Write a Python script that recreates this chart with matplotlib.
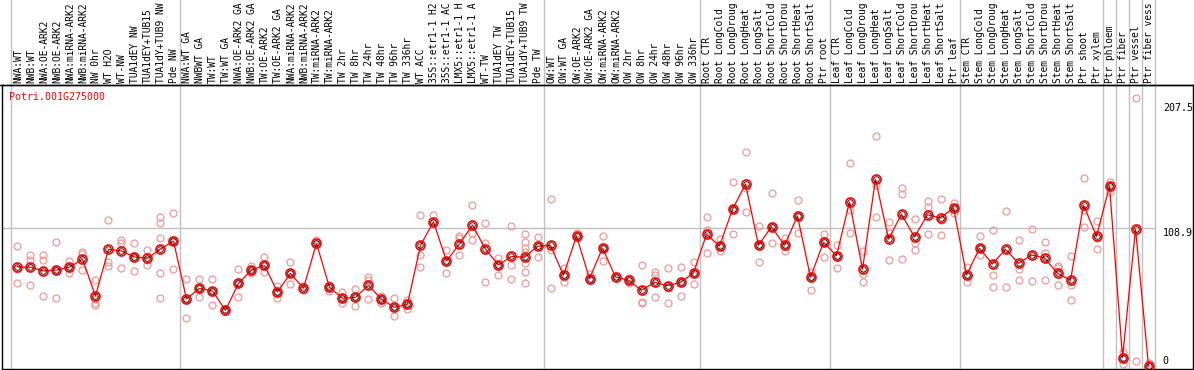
import matplotlib
matplotlib.use("Agg")
import matplotlib.pyplot as plt

gene = "Potri.001G275000"

# labels as shown in the chart (cut to 14 characters)
samples = [
    "NWA:WT", "NWB:WT", "NWA:OE-ARK2", "NWB:OE-ARK2", "NWA:miRNA-ARK2",
    "NWB:miRNA-ARK2", "NW 0hr", "WT H2O", "WT-NW", "TUA1dEY NW",
    "TUA1dEY+TUB15", "TUA1dY+TUB9 NW", "Pde NW",
    "NWA:WT GA", "NWBWT GA", "TW:WT", "TW:WT GA", "NWA:OE-ARK2 GA",
    "NWB:OE-ARK2 GA", "TW:OE-ARK2", "TW:OE-ARK2 GA", "NWA:miRNA-ARK2",
    "NWB:miRNA-ARK2", "TW:miRNA-ARK2", "TW:miRNA-ARK2", "TW 2hr",
    "TW 8hr", "TW 24hr", "TW 48hr", "TW 96hr", "TW 336hr", "WT ACC",
    "35S::etr1-1 H2", "35S::etr1-1 AC", "LMX5::etr1-1 H",
    "LMX5::etr1-1 A", "WT-TW", "TUA1dEY TW", "TUA1dEY+TUB15",
    "TUA1dY+TUB9 TW", "Pde TW",
    "OW:WT", "OW:WT GA", "OW:OE-ARK2", "OW:OE-ARK2 GA", "OW:miRNA-ARK2",
    "OW:miRNA-ARK2", "OW 2hr", "OW 8hr", "OW 24hr", "OW 48hr", "OW 96hr",
    "OW 336hr",
    "Root CTR", "Root LongCold", "Root LongDroug", "Root LongHeat",
    "Root LongSalt", "Root ShortCold", "Root ShortDrou", "Root ShortHeat",
    "Root ShortSalt", "Ptr root",
    "Leaf CTR", "Leaf LongCold", "Leaf LongDroug", "Leaf LongHeat",
    "Leaf LongSalt", "Leaf ShortCold", "Leaf ShortDrou", "Leaf ShortHeat",
    "Leaf ShortSalt", "Ptr leaf",
    "Stem CTR", "Stem LongCold", "Stem LongDroug", "Stem LongHeat",
    "Stem LongSalt", "Stem ShortCold", "Stem ShortDrou", "Stem ShortHeat",
    "Stem ShortSalt", "Ptr shoot", "Ptr xylem",
    "Ptr phloem", "Ptr fiber", "Ptr vessel", "Ptr fiber vess",
]

# index where each group starts (plus the end)
group_starts = [0, 13, 41, 53, 63, 73, 84, 85, 86, 87, 88]

means = [
    78.3, 77.9, 75.0, 75.7, 77.9, 84.4, 55.2, 92.1, 90.7, 86.0, 85.0, 92.3, 98.6,
    52.9, 61.3, 59.2, 43.9, 65.2, 75.7, 79.4, 58.4, 73.1, 61.3, 96.8, 62.1,
    53.4, 54.2, 63.7, 52.6, 46.3, 48.7, 95.2, 113.8, 82.8, 96.3, 111.2, 92.1,
    79.7, 86.5, 85.8, 94.4,
    95.2, 71.6, 102.6, 68.9, 93.1, 70.2, 67.6, 59.7, 66.0, 63.4, 66.0, 73.4,
    103.9, 94.7, 123.6, 143.6, 95.2, 109.9, 95.2, 118.3, 70.0, 97.6,
    87.0, 129.4, 76.5, 147.3, 100.2, 119.7, 101.8, 119.4, 116.8, 124.9,
    71.8, 92.9, 80.5, 92.1, 81.0, 87.6, 85.2, 73.1, 67.6, 127.0, 102.3,
    142.0, 6.7, 108.1, 0.0,
]

replicates = [
    [94.7, 76.3, 65.5], [87.6, 83.6, 63.7], [87.6, 83.6, 55.2], [97.6, 53.4, 76.0],
    [82.8, 73.6, 77.0], [90.2, 88.4, 75.7], [67.9, 52.6, 49.9, 48.4],
    [115.0, 82.3, 79.1], [99.4, 96.8, 77.1], [97.0, 75.0, 86.0], [91.5, 79.4, 84.0],
    [117.8, 112.6, 100.7, 73.1, 53.4], [120.7, 76.3, 98.6],
    [68.4, 37.9, 52.9], [68.4, 54.2, 61.3], [68.4, 47.9, 59.2], [44.7, 43.0],
    [76.3, 54.2, 65.2], [78.9, 73.6, 75.7], [85.8, 73.9, 79.4], [63.1, 53.9, 58.4],
    [81.8, 64.5, 73.1], [63.0, 60.0], [99.4, 96.0], [63.9, 59.4, 62.1],
    [58.6, 49.9, 53.4], [60.5, 47.1, 54.2], [70.5, 67.9, 52.9], [55.2, 49.9, 52.6],
    [53.6, 39.4, 46.3], [52.1, 44.7, 48.7], [118.9, 87.6, 78.3], [118.9, 112.6],
    [91.5, 73.1, 82.8], [102.6, 100.7, 87.6], [126.8, 105.2, 99.2],
    [112.6, 96.8, 66.3], [85.0, 71.6, 79.7], [110.2, 79.7, 68.6],
    [103.9, 97.6, 92.9, 90.2, 81.0, 74.4, 65.2], [101.8, 86.2, 94.4],
    [131.5, 91.5, 61.5], [77.1, 66.3, 71.6], [105.2, 102.6], [72.6, 67.9, 68.9],
    [102.6, 82.8, 93.1], [69.2, 71.0], [69.2, 65.2, 67.6], [79.7, 50.5, 49.5],
    [74.4, 71.8, 54.7], [77.3, 61.3, 49.7], [77.9, 55.2, 66.0], [81.8, 64.7, 73.4],
    [117.3, 107.3, 88.9], [100.2, 91.0, 94.7], [144.9, 104.1, 123.6],
    [168.6, 140.2, 121.3], [110.5, 81.8, 95.2], [136.3, 96.8, 109.9],
    [100.7, 90.7, 95.2], [131.0, 104.7, 118.3], [74.4, 60.0, 70.0],
    [103.9, 86.2, 97.6],
    [95.2, 77.1, 87.0], [160.4, 123.1, 104.7], [91.0, 72.6, 66.3],
    [181.5, 142.8, 117.3], [113.8, 104.7, 83.6], [140.2, 135.7, 84.7],
    [115.7, 96.8, 91.5], [130.2, 125.2, 103.9], [131.8, 115.2, 103.1],
    [128.8, 120.5, 124.9],
    [78.3, 66.0, 71.8], [102.6, 87.6, 92.9], [107.3, 71.8, 62.1], [122.3, 62.1],
    [99.4, 76.3, 67.9], [107.9, 66.8], [97.8, 89.4, 67.9], [79.1, 77.1, 63.9],
    [86.8, 63.9, 51.8], [148.1, 123.1, 109.4], [114.4, 100.7, 92.3],
    [145.4, 142.0, 137.5], [11.3, 6.7, 1.6], [211.2, 3.9], [2.6, 0.0],
]

yticks = [207.5, 108.9, 0]

W, H = 1194, 370
fig = plt.figure(figsize=(W / 100, H / 100), dpi=100)
ax = fig.add_axes([2 / W, 1 / H, 1191 / W, 284 / H])

x = list(range(len(samples)))
rep_x = [i for i, r in enumerate(replicates) for _ in r]
rep_y = [v for r in replicates for v in r]

ax.plot(rep_x, rep_y, "o", ms=5, mfc="none", mec="#ee9a9a", mew=0.9, zorder=2)
ax.plot(x, means, "-", color="#ff0000", lw=0.9, zorder=3)
ax.plot(x, means, "o", ms=6.5, mfc="none", mec="#ff0000", mew=1.2, zorder=4)
ax.plot(x, means, "o", ms=4.0, mfc="none", mec="black", mew=0.6, zorder=5)

ax.set_xlim(-1.19, 90.42)
ax.set_ylim(-2.37, 221.7)

top_ext = 369 / 284
for g in group_starts:
    ax.axvline(g - 0.5, ymin=0, ymax=top_ext, color="#c0c0c0", lw=1.0,
               clip_on=False, zorder=1)
ax.hlines(yticks[1], -1.19, 87.5, color="#c0c0c0", lw=1.0, zorder=1)

mono = "DejaVu Sans Mono"
for i, name in enumerate(samples):
    ax.annotate(name, xy=(i, 1), xycoords=("data", "axes fraction"),
                xytext=(0.5, 2), textcoords="offset pixels", rotation=90,
                ha="center", va="bottom", fontsize=6.9, family=mono,
                annotation_clip=False)

ax.text(88.1, yticks[0], "207.5", ha="left", va="top", fontsize=7.2, family=mono)
ax.text(88.1, yticks[1], "108.9", ha="left", va="top", fontsize=7.2, family=mono)
ax.text(88.1, yticks[2], "0", ha="left", va="bottom", fontsize=7.2, family=mono)

fig.text(9 / W, 1 - 97 / H, gene, color="#ff0000", ha="left", va="center",
         fontsize=7.2, family=mono)

ax.set_xticks([])
ax.set_yticks([])
for s in ax.spines.values():
    s.set_color("black")
    s.set_linewidth(1.0)
fig.add_artist(plt.Line2D([0, 1], [1 - 85 / H, 1 - 85 / H], color="black", lw=1.0))

fig.savefig("out.png", dpi=100)
